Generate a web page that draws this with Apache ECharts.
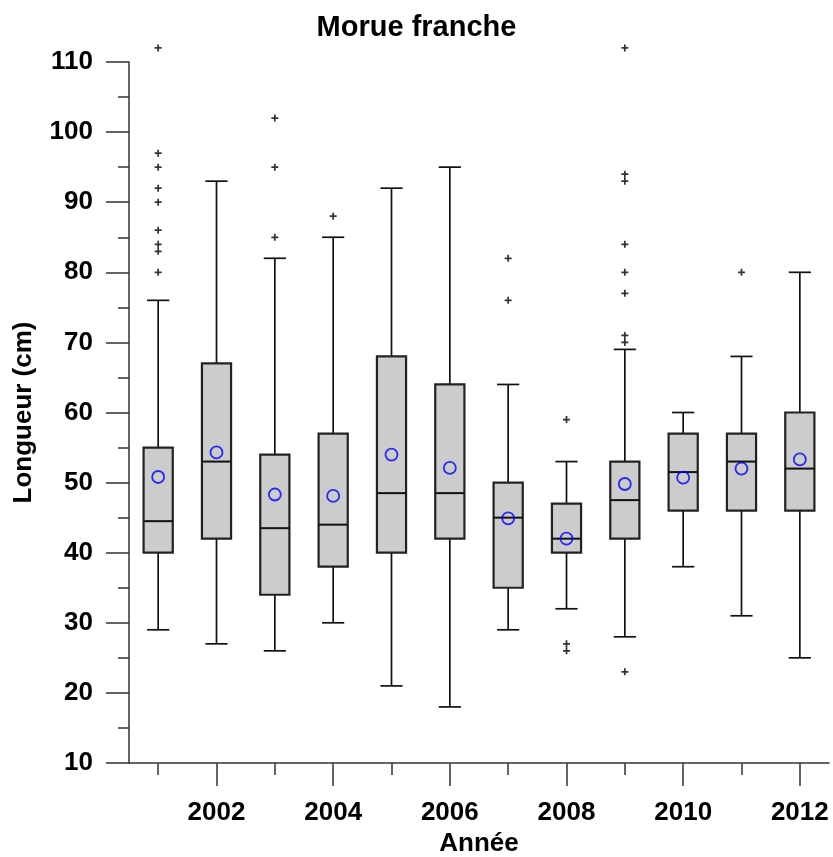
<!DOCTYPE html>
<html>
<head>
<meta charset="utf-8">
<script src="https://cdn.jsdelivr.net/npm/echarts@6/dist/echarts.min.js"></script>
<style>
  html, body { margin: 0; padding: 0; background: #fff; }
  #chart { width: 833px; height: 857px; }
</style>
</head>
<body>
<div id="chart"></div>
<script>
// Length distribution of cod catches per year
const years = ['2001','2002','2003','2004','2005','2006','2007','2008','2009','2010','2011','2012'];
const whiskerLow  = [29, 27, 26, 30, 21, 18, 29, 32, 28, 38, 31, 25];
const q1          = [40, 42, 34, 38, 40, 42, 35, 40, 42, 46, 46, 46];
const median      = [44.5, 53, 43.5, 44, 48.5, 48.5, 45, 42, 47.5, 51.5, 53, 52];
const q3          = [55, 67, 54, 57, 68, 64, 50, 47, 53, 57, 57, 60];
const whiskerHigh = [76, 93, 82, 85, 92, 95, 64, 53, 69, 60, 68, 80];
const means       = [50.8, 54.3, 48.3, 48.1, 54.0, 52.1, 44.9, 42.0, 49.8, 50.7, 52.0, 53.3];
const outliers = [
  [112, 97, 95, 92, 90, 86, 84, 83, 80],
  [],
  [102, 95, 85],
  [88],
  [],
  [],
  [82, 76],
  [59, 27, 26],
  [112, 94, 93, 84, 80, 77, 71, 70, 23],
  [],
  [80],
  []
];
const yTicks = { min: 10, max: 110, step: 10 };

const FONT = 'Liberation Sans, Arial, sans-serif';

const boxData = years.map((y, i) => [i, whiskerLow[i], q1[i], median[i], q3[i], whiskerHigh[i]]);
const meanData = means.map((m, i) => [i, m]);
const outlierData = [];
outliers.forEach((list, i) => list.forEach(v => outlierData.push([i, v])));

function renderBox(params, api) {
  const x = api.value(0);
  const lo = api.coord([x, api.value(1)]);
  const b1 = api.coord([x, api.value(2)]);
  const md = api.coord([x, api.value(3)]);
  const b3 = api.coord([x, api.value(4)]);
  const hi = api.coord([x, api.value(5)]);
  const band = api.size([1, 0])[0];
  const bw = band * 0.5;
  const cw = band * 0.38;
  const cx = lo[0];
  const wStyle = { stroke: '#111', lineWidth: 1.7, fill: null };
  return {
    type: 'group',
    children: [
      { type: 'line', shape: { x1: cx, y1: hi[1], x2: cx, y2: b3[1] }, style: wStyle },
      { type: 'line', shape: { x1: cx, y1: b1[1], x2: cx, y2: lo[1] }, style: wStyle },
      { type: 'line', shape: { x1: cx - cw / 2, y1: hi[1], x2: cx + cw / 2, y2: hi[1] }, style: wStyle },
      { type: 'line', shape: { x1: cx - cw / 2, y1: lo[1], x2: cx + cw / 2, y2: lo[1] }, style: wStyle },
      { type: 'rect', shape: { x: cx - bw / 2, y: b3[1], width: bw, height: b1[1] - b3[1] },
        style: { fill: '#cccccc', stroke: '#222', lineWidth: 2.2 } },
      { type: 'line', shape: { x1: cx - bw / 2, y1: md[1], x2: cx + bw / 2, y2: md[1] },
        style: { stroke: '#111', lineWidth: 2 } }
    ]
  };
}

const chart = echarts.init(document.getElementById('chart'), null, { renderer: 'canvas' });
chart.setOption({
  animation: false,
  backgroundColor: '#ffffff',
  title: {
    text: 'Morue franche',
    left: 'center',
    top: 8,
    textStyle: { fontFamily: FONT, fontWeight: 'bold', fontSize: 29, color: '#000' }
  },
  grid: { left: 129, right: 4, top: 62, bottom: 94, containLabel: false, outerBoundsMode: 'none' },
  xAxis: [
    {
      type: 'category',
      data: years,
      position: 'bottom',
      boundaryGap: true,
      name: 'Année',
      nameLocation: 'middle',
      nameGap: 64,
      nameTextStyle: { fontFamily: FONT, fontWeight: 'bold', fontSize: 26, color: '#000' },
      axisLine: { show: true, lineStyle: { color: '#333', width: 1.5 } },
      axisTick: { show: true, alignWithLabel: true, length: 12, interval: (i) => i % 2 === 0,
        lineStyle: { color: '#333', width: 1.5 } },
      axisLabel: { show: true, interval: (i) => i % 2 === 1, margin: 37,
        fontFamily: FONT, fontWeight: 'bold', fontSize: 26, color: '#000' },
      splitLine: { show: false }
    },
    {
      type: 'category',
      data: years,
      position: 'bottom',
      boundaryGap: true,
      axisLine: { show: false },
      axisTick: { show: true, alignWithLabel: true, length: 23, interval: (i) => i % 2 === 1,
        lineStyle: { color: '#333', width: 1.5 } },
      axisLabel: { show: false },
      splitLine: { show: false }
    }
  ],
  yAxis: {
    type: 'value',
    min: yTicks.min,
    max: yTicks.max,
    interval: yTicks.step,
    name: 'Longueur (cm)',
    nameLocation: 'middle',
    nameRotate: 90,
    nameGap: 92,
    nameTextStyle: { fontFamily: FONT, fontWeight: 'bold', fontSize: 26, color: '#000' },
    axisLine: { show: true, lineStyle: { color: '#333', width: 1.5 } },
    axisTick: { show: true, length: 23, lineStyle: { color: '#333', width: 1.5 } },
    minorTick: { show: true, splitNumber: 2, length: 11, lineStyle: { color: '#333', width: 1.5 } },
    axisLabel: { margin: 36, fontFamily: FONT, fontWeight: 'bold', fontSize: 26, color: '#000' },
    splitLine: { show: false }
  },
  series: [
    {
      type: 'custom',
      xAxisIndex: 0,
      renderItem: renderBox,
      encode: { x: 0, y: [1, 2, 3, 4, 5] },
      data: boxData,
      clip: false,
      z: 2
    },
    {
      type: 'scatter',
      xAxisIndex: 0,
      data: meanData,
      symbol: 'circle',
      symbolSize: 12,
      clip: false,
      itemStyle: { color: 'rgba(0,0,0,0)', borderColor: '#0000ff', borderWidth: 1.8 },
      z: 3
    },
    {
      type: 'scatter',
      xAxisIndex: 0,
      data: outlierData,
      symbol: 'path://M3,0h2v3h3v2h-3v3h-2v-3h-3v-2h3z',
      symbolSize: 7,
      clip: false,
      itemStyle: { color: '#000' },
      z: 3
    }
  ]
});
</script>
</body>
</html>
